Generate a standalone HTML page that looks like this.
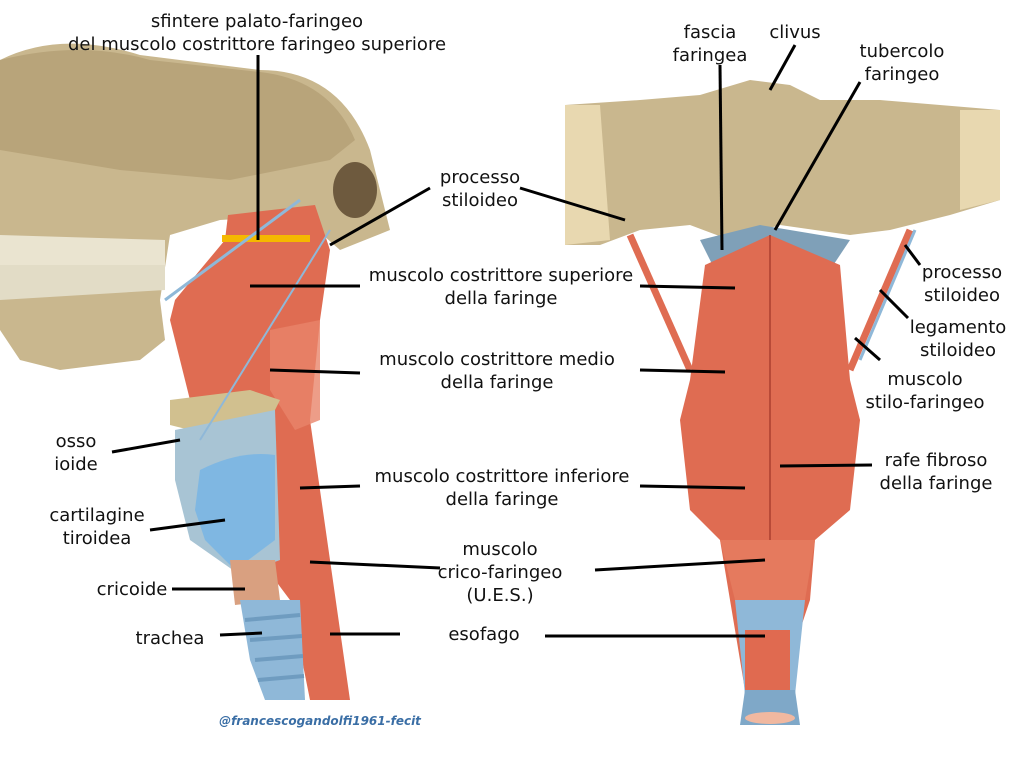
<!DOCTYPE html>
<html><head><meta charset="utf-8"><style>
body{margin:0;background:#fff}
svg{display:block}
text{font-family:"DejaVu Sans","Liberation Sans",sans-serif;font-size:18px;fill:#111}
</style></head><body>
<svg width="1024" height="769" viewBox="0 0 1024 769" xmlns="http://www.w3.org/2000/svg">
<!-- LEFT: skull -->
<path d="M0 60 Q60 30 140 55 L260 70 Q340 70 370 150 L390 230 L340 250 L300 215 L220 220 L170 235 L160 300 L165 340 L140 360 L60 370 L20 360 L0 330 Z" fill="#c9b78e"/>
<path d="M0 60 Q80 40 150 60 L260 72 Q330 80 355 140 L330 160 L230 180 L120 170 L0 150Z" fill="#b8a47a"/>
<ellipse cx="355" cy="190" rx="22" ry="28" fill="#6e5a3e"/>
<path d="M0 235 L165 240 L165 265 L0 270Z" fill="#eae4d0"/>
<path d="M0 265 L165 265 L165 290 L0 300Z" fill="#e2dcc6"/>
<!-- left muscles -->
<path d="M228 215 L315 205 L330 250 L320 320 L310 420 L330 560 L350 700 L310 700 L290 600 L260 560 L230 500 L200 440 L170 320 L175 300 L225 240Z" fill="#df6c52"/>
<path d="M270 330 L320 320 L320 420 L295 430 L270 390Z" fill="#e8856a" opacity=".8"/>
<rect x="222" y="235" width="88" height="7" fill="#f5b800"/>
<path d="M170 400 L250 390 L280 400 L270 420 L190 430 L170 425Z" fill="#d1c08f"/>
<path d="M175 430 L275 410 L280 560 L240 575 L190 540 L175 480Z" fill="#a8c4d4"/>
<path d="M200 470 Q240 450 275 455 L275 540 L235 570 L205 540 L195 510Z" fill="#7fb7e2"/>
<path d="M230 560 L275 560 L280 600 L235 605Z" fill="#d9a080"/>
<path d="M240 600 L300 600 L305 700 L265 700 L250 660Z" fill="#8fb8d8"/>
<g stroke="#6f9cc0" stroke-width="4"><line x1="245" y1="620" x2="300" y2="615"/><line x1="250" y1="640" x2="302" y2="636"/><line x1="255" y1="660" x2="303" y2="656"/><line x1="258" y1="680" x2="304" y2="676"/></g>
<line x1="165" y1="300" x2="300" y2="200" stroke="#8fb8d8" stroke-width="3"/>
<line x1="200" y1="440" x2="330" y2="230" stroke="#8fb8d8" stroke-width="2"/>
<!-- RIGHT: skull base -->
<path d="M565 105 L640 100 L700 95 L750 80 L790 85 L820 100 L880 100 L1000 110 L1000 200 L950 215 L890 230 L850 235 L780 225 L730 240 L690 225 L640 230 L600 245 L565 245Z" fill="#c9b78e"/>
<path d="M565 105 L600 105 L610 240 L565 245Z" fill="#e8d8b0"/>
<path d="M960 110 L1000 110 L1000 200 L960 210Z" fill="#e8d8b0"/>
<path d="M700 240 L760 225 L790 230 L850 240 L830 270 L715 270Z" fill="#7fa0b8"/>
<!-- right pharynx -->
<path d="M705 265 L770 235 L840 265 L850 380 L860 420 L850 510 L815 540 L810 600 L800 630 L790 690 L745 690 L735 630 L730 600 L720 540 L690 510 L680 420 L690 380Z" fill="#df6c52"/>
<path d="M720 540 L815 540 L805 600 L735 600Z" fill="#e57a5e"/>
<path d="M735 600 L805 600 L795 695 L745 695Z" fill="#8fb8d8"/>
<path d="M745 630 L790 630 L790 690 L745 690Z" fill="#e06a50"/>
<path d="M745 690 L795 690 L800 725 L740 725Z" fill="#7fa8c8"/>
<ellipse cx="770" cy="718" rx="25" ry="6" fill="#f0b8a0"/>
<line x1="630" y1="235" x2="690" y2="370" stroke="#df6c52" stroke-width="7"/>
<line x1="910" y1="230" x2="850" y2="370" stroke="#df6c52" stroke-width="7"/>
<line x1="915" y1="230" x2="860" y2="360" stroke="#8fb8d8" stroke-width="3"/>
<line x1="770" y1="235" x2="770" y2="540" stroke="#b84a38" stroke-width="2"/>
<!-- leader lines -->
<g stroke="#000" stroke-width="3" fill="none">
<line x1="258" y1="55" x2="258" y2="240"/>
<line x1="430" y1="188" x2="330" y2="245"/>
<line x1="360" y1="286" x2="250" y2="286"/>
<line x1="360" y1="373" x2="270" y2="370"/>
<line x1="360" y1="486" x2="300" y2="488"/>
<line x1="440" y1="568" x2="310" y2="562"/>
<line x1="400" y1="634" x2="330" y2="634"/>
<line x1="112" y1="452" x2="180" y2="440"/>
<line x1="150" y1="530" x2="225" y2="520"/>
<line x1="172" y1="589" x2="245" y2="589"/>
<line x1="220" y1="635" x2="262" y2="633"/>
<line x1="520" y1="188" x2="625" y2="220"/>
<line x1="640" y1="286" x2="735" y2="288"/>
<line x1="640" y1="370" x2="725" y2="372"/>
<line x1="640" y1="486" x2="745" y2="488"/>
<line x1="595" y1="570" x2="765" y2="560"/>
<line x1="545" y1="636" x2="765" y2="636"/>
<line x1="720" y1="65" x2="722" y2="250"/>
<line x1="795" y1="45" x2="770" y2="90"/>
<line x1="860" y1="82" x2="775" y2="230"/>
<line x1="920" y1="265" x2="905" y2="245"/>
<line x1="908" y1="318" x2="880" y2="290"/>
<line x1="880" y1="360" x2="855" y2="338"/>
<line x1="872" y1="465" x2="780" y2="466"/>
</g>
<!-- labels -->
<g text-anchor="middle">
<text x="257" y="27">sfintere palato-faringeo</text>
<text x="257" y="50">del muscolo costrittore faringeo superiore</text>
<text x="480" y="183">processo</text><text x="480" y="206">stiloideo</text>
<text x="501" y="281">muscolo costrittore superiore</text><text x="501" y="304">della faringe</text>
<text x="497" y="365">muscolo costrittore medio</text><text x="497" y="388">della faringe</text>
<text x="502" y="482">muscolo costrittore inferiore</text><text x="502" y="505">della faringe</text>
<text x="500" y="555">muscolo</text><text x="500" y="578">crico-faringeo</text><text x="500" y="601">(U.E.S.)</text>
<text x="484" y="640">esofago</text>
<text x="76" y="447">osso</text><text x="76" y="470">ioide</text>
<text x="97" y="521">cartilagine</text><text x="97" y="544">tiroidea</text>
<text x="132" y="595">cricoide</text>
<text x="170" y="644">trachea</text>
<text x="710" y="38">fascia</text><text x="710" y="61">faringea</text>
<text x="795" y="38">clivus</text>
<text x="902" y="57">tubercolo</text><text x="902" y="80">faringeo</text>
<text x="962" y="278">processo</text><text x="962" y="301">stiloideo</text>
<text x="958" y="333">legamento</text><text x="958" y="356">stiloideo</text>
<text x="925" y="385">muscolo</text><text x="925" y="408">stilo-faringeo</text>
<text x="936" y="466">rafe fibroso</text><text x="936" y="489">della faringe</text>
</g>
<text x="320" y="725" text-anchor="middle" style="font-size:12px;font-weight:bold;font-style:italic;fill:#3a6ea5">@francescogandolfi1961-fecit</text>
</svg>
</body></html>
